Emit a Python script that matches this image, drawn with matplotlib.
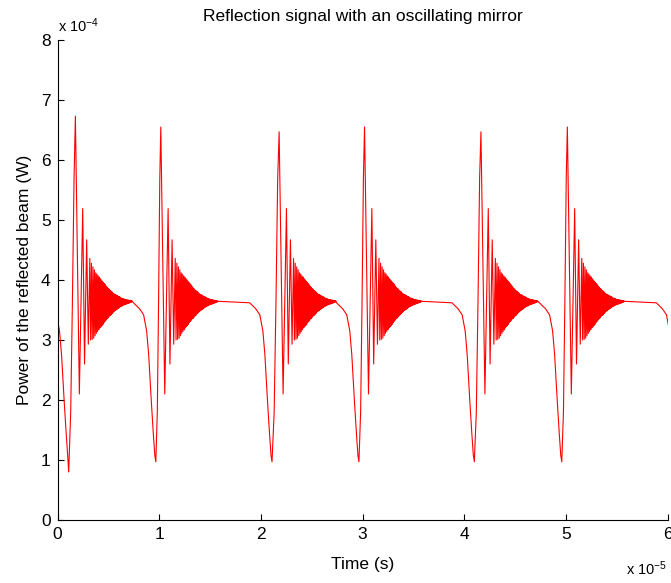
import matplotlib
matplotlib.use('Agg')
from matplotlib import pyplot as plt

# reflected power, time in units of 1e-5 s, power in units of 1e-4 W

# minimum of each dip (mirror passing through resonance) and the first maximum after it
dip_t = [0.110, 0.967, 2.110, 2.965, 4.100, 4.960, 6.110]
dip_p = [0.80, 0.97, 0.97, 0.97, 0.97, 0.97, 0.97]
peak_t = [0.176, 1.016, 2.180, 3.020, 4.165, 5.015, 6.170]
peak_p = [6.73, 6.55, 6.47, 6.55, 6.47, 6.55, 6.55]

# falling edge before each minimum (offset to the minimum, power)
fall_dt = [-0.22, -0.16, -0.12, -0.09, -0.07, -0.045, -0.025, -0.01]
fall_p = [3.62, 3.52, 3.42, 3.15, 2.75, 2.00, 1.45, 1.08]

# rising edge (fraction of the way from minimum to maximum, power)
rise_f = [0.3, 0.55, 0.8]
rise_p = [1.8, 3.6, 5.7]

# ringing after the first maximum (offset to the maximum, power), alternating min / max
ring_dt = [0.039, 0.072, 0.090, 0.111, 0.127, 0.142,
           0.150, 0.158, 0.1655, 0.173, 0.180, 0.187, 0.1935, 0.200, 0.206, 0.212,
           0.218, 0.224, 0.2295, 0.235, 0.2405, 0.246, 0.251, 0.256, 0.261, 0.266,
           0.271, 0.276, 0.281, 0.286, 0.2905, 0.295, 0.2995, 0.304, 0.3085, 0.313,
           0.3175, 0.322, 0.3265, 0.331, 0.335, 0.339, 0.343, 0.347, 0.351, 0.355,
           0.359, 0.363, 0.367, 0.371, 0.375, 0.379, 0.383, 0.387, 0.391, 0.395,
           0.399, 0.403, 0.407, 0.411, 0.415, 0.419, 0.423, 0.427, 0.431, 0.435,
           0.439, 0.443, 0.447, 0.451, 0.455, 0.459, 0.463, 0.467, 0.471, 0.475,
           0.479, 0.483, 0.487, 0.491, 0.495, 0.499, 0.503, 0.507, 0.511, 0.515,
           0.519, 0.523, 0.527, 0.531, 0.535, 0.539, 0.543, 0.547, 0.551, 0.555,
           0.560]
ring_p = [2.10, 5.19, 2.60, 4.67, 2.93, 4.36,
          3.00, 4.28, 3.01, 4.22, 3.03, 4.17, 3.07, 4.12, 3.11, 4.10,
          3.14, 4.07, 3.17, 4.05, 3.20, 4.02, 3.22, 4.00, 3.24, 3.98,
          3.26, 3.96, 3.29, 3.94, 3.31, 3.92, 3.33, 3.90, 3.35, 3.88,
          3.36, 3.86, 3.38, 3.85, 3.40, 3.83, 3.41, 3.82, 3.42, 3.81,
          3.44, 3.80, 3.45, 3.78, 3.47, 3.77, 3.48, 3.76, 3.49, 3.755,
          3.50, 3.75, 3.51, 3.74, 3.52, 3.73, 3.53, 3.725, 3.54, 3.72,
          3.55, 3.71, 3.56, 3.70, 3.565, 3.695, 3.57, 3.69, 3.58, 3.685,
          3.585, 3.68, 3.59, 3.675, 3.595, 3.675, 3.60, 3.67, 3.605, 3.665,
          3.61, 3.665, 3.615, 3.66, 3.62, 3.66, 3.625, 3.655, 3.63, 3.655,
          3.645]

# assemble the trace burst by burst
t_all, p_all = [], []
for i in range(len(dip_t)):
    t_all += [dip_t[i] + d for d in fall_dt] + [dip_t[i]]
    p_all += fall_p + [dip_p[i]]
    t_all += [dip_t[i] + f * (peak_t[i] - dip_t[i]) for f in rise_f] + [peak_t[i]]
    p_all += rise_p + [peak_p[i]]
    t_all += [peak_t[i] + d for d in ring_dt]
    p_all += ring_p

plt.rcParams['font.family'] = ['Liberation Sans', 'DejaVu Sans']
plt.rcParams['mathtext.default'] = 'regular'

fig = plt.figure(figsize=(6.71, 5.83), dpi=100)
ax = fig.add_axes([57.5 / 671, 1 - 520 / 583, 610 / 671, 480 / 583])
ax.plot(t_all, p_all, color='red', lw=0.8)
ax.set_xlim(0, 6)
ax.set_ylim(0, 8)
ax.set_xticks(range(7))
ax.set_yticks(range(9))
ax.spines['top'].set_visible(False)
ax.spines['right'].set_visible(False)
for s in ('left', 'bottom'):
    ax.spines[s].set_linewidth(0.8)
ax.tick_params(direction='in', length=4, width=0.8, labelsize=12.5, pad=5)
ax.set_title('Reflection signal with an oscillating mirror', fontsize=12.5, pad=14)
ax.set_xlabel('Time (s)', fontsize=12.5, labelpad=11)
ax.set_ylabel('Power of the reflected beam (W)', fontsize=12.5, labelpad=6)
ax.text(0.0, 1.017, 'x 10$^{-4}$', transform=ax.transAxes, fontsize=10.5,
        ha='left', va='baseline')
ax.text(1.0, -0.115, 'x 10$^{-5}$', transform=ax.transAxes, fontsize=10.5,
        ha='right', va='baseline')

fig.savefig('out.png', dpi=100)
